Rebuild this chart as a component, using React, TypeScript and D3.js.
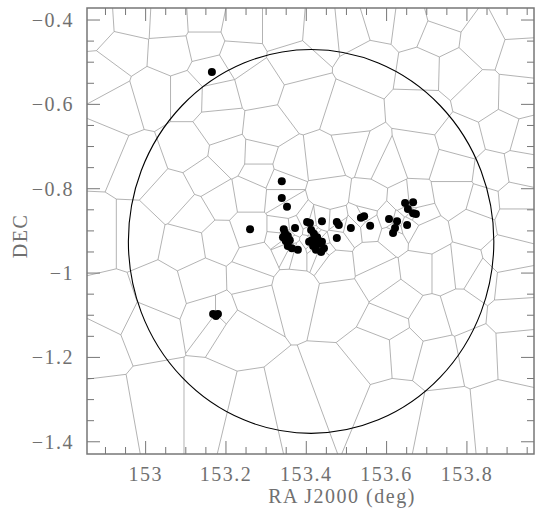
import React from "react";
import * as d3 from "d3";

// Field galaxies (RA, Dec in deg) used as Voronoi seeds
const fieldGalaxies: [number, number][] = [
  [152.879, -0.407], [152.961, -0.402], [153.061, -0.407], [153.148, -0.402], [153.235, -0.419],
  [153.347, -0.419], [153.439, -0.426], [153.514, -0.419], [153.579, -0.400], [153.658, -0.410],
  [153.746, -0.388], [153.838, -0.452], [153.932, -0.405], [153.937, -0.483],
  [152.946, -0.466], [152.891, -0.537], [153.066, -0.473], [153.148, -0.455], [153.230, -0.485],
  [153.372, -0.497], [153.280, -0.554], [153.559, -0.500], [153.728, -0.438], [153.691, -0.519],
  [153.770, -0.521], [153.833, -0.583], [153.925, -0.585],
  [153.021, -0.578], [153.103, -0.578], [153.178, -0.580], [152.929, -0.604], [153.397, -0.592],
  [153.504, -0.625], [153.688, -0.613], [153.300, -0.661], [153.185, -0.649], [152.886, -0.704],
  [152.986, -0.744], [153.103, -0.704], [153.210, -0.720], [153.285, -0.723], [153.285, -0.760],
  [153.447, -0.734], [153.514, -0.711], [153.564, -0.727], [153.601, -0.744], [153.354, -0.744],
  [153.671, -0.720], [153.788, -0.687], [153.887, -0.663], [153.950, -0.680], [153.770, -0.751],
  [153.937, -0.751], [153.863, -0.763], [153.770, -0.815], [153.840, -0.834], [153.920, -0.827],
  [153.153, -0.775], [153.071, -0.817], [153.185, -0.827], [153.260, -0.815], [153.123, -0.862],
  [152.876, -0.910], [152.978, -0.910], [153.103, -0.934], [153.183, -0.922], [153.459, -0.815],
  [153.554, -0.827], [153.696, -0.910], [153.820, -0.886], [153.920, -0.869], [153.895, -0.964],
  [153.277, -0.969], [153.260, -1.014], [153.272, -1.064], [153.230, -1.135], [153.143, -1.017],
  [153.036, -1.045], [152.919, -1.083], [153.003, -1.123], [152.874, -1.171], [153.369, -1.040],
  [153.471, -0.974], [153.564, -0.964], [153.584, -1.005], [153.683, -0.993], [153.743, -0.993],
  [153.790, -0.988], [153.840, -1.017], [153.907, -1.024], [153.484, -1.064], [153.628, -1.064],
  [153.788, -1.088], [153.912, -1.099], [153.603, -1.123], [153.708, -1.111],
  [152.894, -1.325], [153.036, -1.301], [153.155, -1.301], [153.260, -1.325], [153.372, -1.301],
  [153.471, -1.266], [153.579, -1.182], [153.638, -1.178], [153.728, -1.201], [153.828, -1.182],
  [153.920, -1.178], [153.621, -1.325], [153.746, -1.349], [153.883, -1.337],
];

// Selected members (black dots)
const members: [number, number][] = [
  [153.165, -0.523], [153.260, -0.896], [153.168, -1.097], [153.175, -1.102], [153.180, -1.097],
  [153.339, -0.782], [153.339, -0.822], [153.352, -0.843],
  [153.344, -0.896], [153.347, -0.905], [153.342, -0.915], [153.354, -0.912], [153.349, -0.924],
  [153.359, -0.922], [153.354, -0.936], [153.364, -0.941], [153.379, -0.945], [153.372, -0.893],
  [153.402, -0.879], [153.409, -0.881], [153.439, -0.877], [153.412, -0.898], [153.419, -0.907],
  [153.414, -0.922], [153.427, -0.915], [153.439, -0.926], [153.429, -0.931], [153.417, -0.936],
  [153.444, -0.941], [153.437, -0.950], [153.424, -0.945], [153.407, -0.926],
  [153.476, -0.879], [153.481, -0.886], [153.476, -0.917], [153.511, -0.893], [153.536, -0.869],
  [153.544, -0.865], [153.559, -0.888],
  [153.606, -0.872], [153.626, -0.877], [153.651, -0.886], [153.621, -0.893], [153.616, -0.905],
  [153.646, -0.834], [153.666, -0.832], [153.653, -0.848], [153.666, -0.858], [153.673, -0.860],
];

const circleCenter: [number, number] = [153.412, -0.925];
const circleRadius = 0.455;

const xMajor = [153, 153.2, 153.4, 153.6, 153.8];
const xLabels = ["153", "153.2", "153.4", "153.6", "153.8"];
const yMajor = [-0.4, -0.6, -0.8, -1, -1.2, -1.4];
const yLabels = ["\u22120.4", "\u22120.6", "\u22120.8", "\u22121", "\u22121.2", "\u22121.4"];
const minorStep = 0.05;

const L = 87, R = 534, T = 8, B = 454;
const axisColor = "#777";
const font = "'Liberation Serif', serif";

export default function App() {
  const x = d3.scaleLinear().domain([152.854, 153.967]).range([L, R]);
  const y = d3.scaleLinear().domain([-0.3715, -1.429]).range([T, B]);

  const seeds = [...fieldGalaxies, ...members];
  const delaunay = d3.Delaunay.from(seeds, (d) => x(d[0]), (d) => y(d[1]));
  const vor = delaunay.voronoi([L, T, R, B]);
  const cellsPath = vor.render();

  const xMinor = d3.range(152.9, 153.96, minorStep).filter(
    (v) => !xMajor.some((m) => Math.abs(m - v) < 1e-6)
  );
  const yMinor = d3.range(-0.4, -1.43, -minorStep).filter(
    (v) => v < -0.3715 && !yMajor.some((m) => Math.abs(m - v) < 1e-6)
  );

  const cx = x(circleCenter[0]);
  const cy = y(circleCenter[1]);
  const rx = x(circleCenter[0] + circleRadius) - cx;
  const ry = y(circleCenter[1] - circleRadius) - cy;

  const maj = 13, mnr = 7;

  return (
    <svg width={542} height={518} style={{ position: "absolute", left: 0, top: 0, background: "#fff" }}>
      <path d={cellsPath} fill="none" stroke="#9a9a9a" strokeWidth={0.75} />
      <ellipse cx={cx} cy={cy} rx={rx} ry={ry} fill="none" stroke="#000" strokeWidth={1.1} />
      {members.map((d, i) => (
        <circle key={i} cx={x(d[0])} cy={y(d[1])} r={4} fill="#000" />
      ))}
      {/* ticks */}
      <g stroke={axisColor} strokeWidth={1}>
        {xMajor.map((v, i) => (
          <g key={"xm" + i}>
            <line x1={x(v)} x2={x(v)} y1={B} y2={B - maj} />
            <line x1={x(v)} x2={x(v)} y1={T} y2={T + maj} />
          </g>
        ))}
        {xMinor.map((v, i) => (
          <g key={"xn" + i}>
            <line x1={x(v)} x2={x(v)} y1={B} y2={B - mnr} />
            <line x1={x(v)} x2={x(v)} y1={T} y2={T + mnr} />
          </g>
        ))}
        {yMajor.map((v, i) => (
          <g key={"ym" + i}>
            <line x1={L} x2={L + maj} y1={y(v)} y2={y(v)} />
            <line x1={R} x2={R - maj} y1={y(v)} y2={y(v)} />
          </g>
        ))}
        {yMinor.map((v, i) => (
          <g key={"yn" + i}>
            <line x1={L} x2={L + mnr} y1={y(v)} y2={y(v)} />
            <line x1={R} x2={R - mnr} y1={y(v)} y2={y(v)} />
          </g>
        ))}
      </g>
      <rect x={L} y={T} width={R - L} height={B - T} fill="none" stroke={axisColor} strokeWidth={1.5} />
      {/* tick labels */}
      <g fill="#707070" fontFamily={font} fontSize={20} style={{ letterSpacing: "1.5px" }}>
        {xMajor.map((v, i) => (
          <text key={"xl" + i} x={x(v)} y={481} textAnchor="middle">{xLabels[i]}</text>
        ))}
        {yMajor.map((v, i) => (
          <text key={"yl" + i} x={74} y={y(v) + 7} textAnchor="end">{yLabels[i]}</text>
        ))}
      </g>
      <text x={342} y={503} textAnchor="middle" fill="#707070" fontFamily={font} fontSize={20} style={{ letterSpacing: "1.5px" }}>
        RA J2000 (deg)
      </text>
      <text transform="translate(27,236) rotate(-90)" textAnchor="middle" fill="#707070" fontFamily={font} fontSize={20} style={{ letterSpacing: "1.5px" }}>
        DEC
      </text>
    </svg>
  );
}
